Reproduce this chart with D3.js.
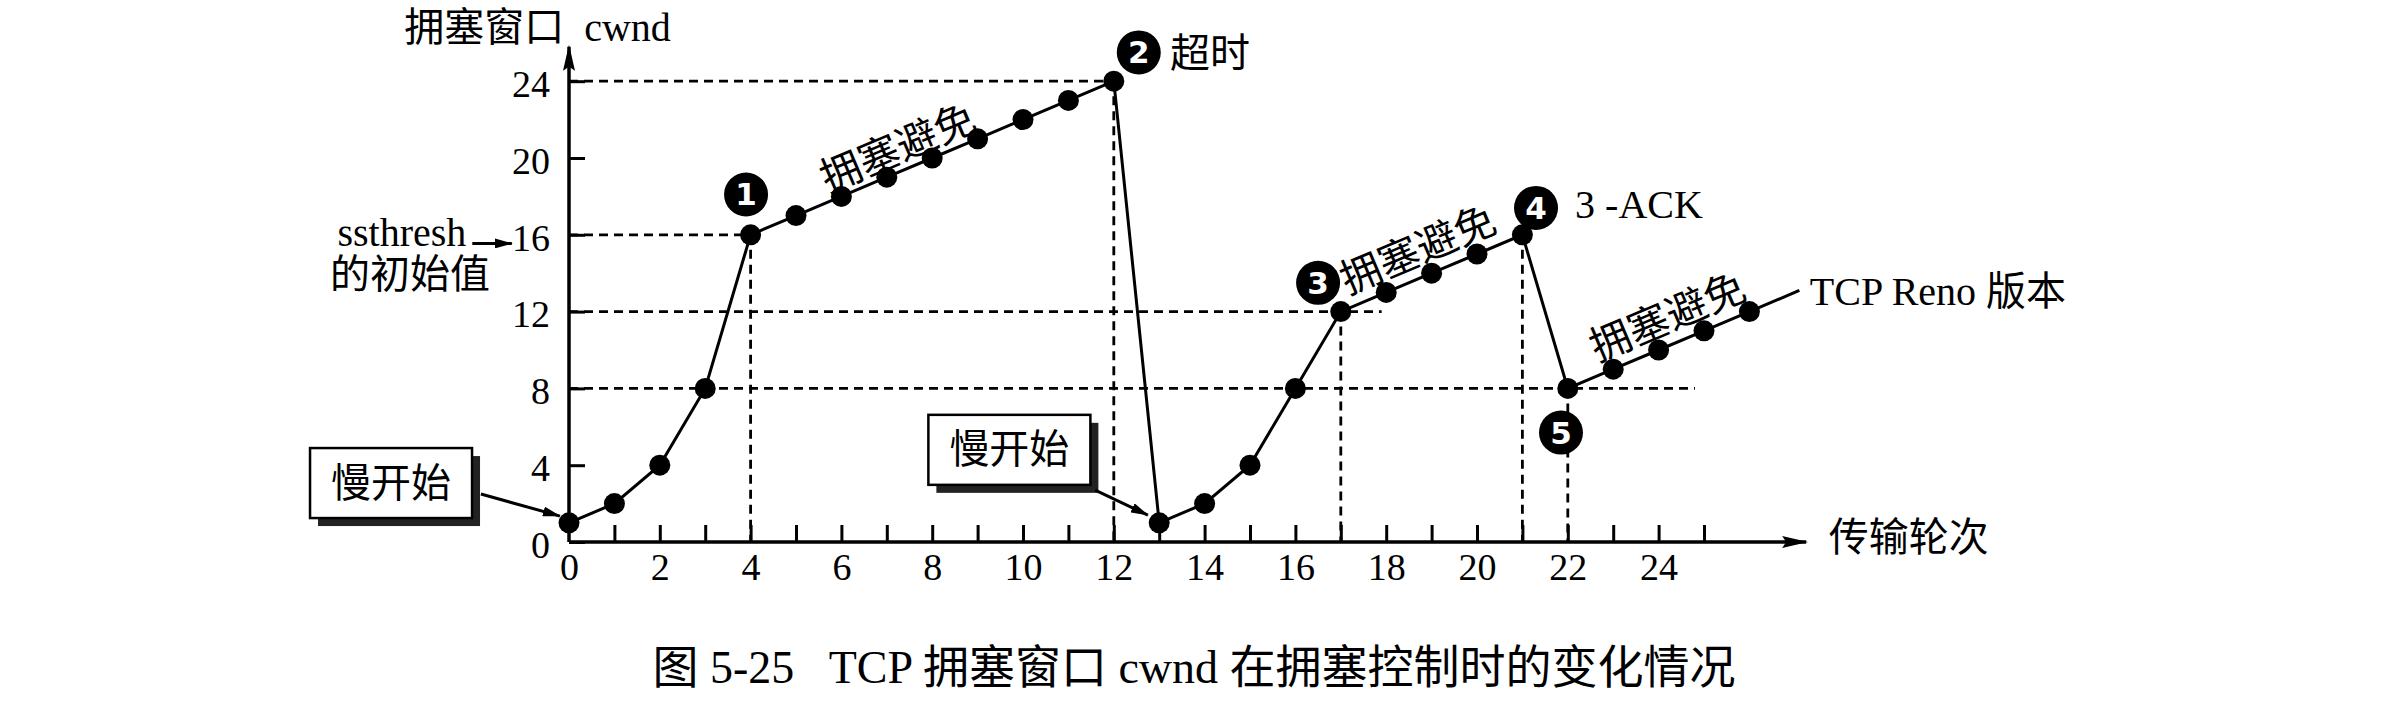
<!DOCTYPE html>
<html><head><meta charset="utf-8">
<script src="https://cdn.jsdelivr.net/npm/d3@7"></script>
<style>
html,body{margin:0;padding:0;background:#fff;}
svg{display:block;}
text{font-family:"Liberation Serif","Noto Sans CJK SC",serif;fill:#000;}
</style></head><body>
<svg id="chart" width="2388" height="707"></svg>
<script>
// ---------------- data ----------------
const rounds = d3.range(0, 27);
const cwnd = [1,2,4,8,16,17,18,19,20,21,22,23,24,1,2,4,8,12,13,14,15,16,8,9,10,11,12];
const tail = [[26,12],[27.1,13.1]];
const xTickLabels = [0,2,4,6,8,10,12,14,16,18,20,22,24];
const xMinorTicks = d3.range(1, 26);
const yTickLabels = [0,4,8,12,16,20,24];
const guideH = [{v:24,from:0,to:12},{v:16,from:0,to:4},{v:12,from:0,to:17.9},{v:8,from:0,to:24.8}];
const guideV = [{r:4,v:16},{r:12,v:24},{r:17,v:12},{r:21,v:16},{r:22,v:8}];
const markers = [{n:"1",r:3.9,v:18.1},{n:"2",r:12.55,v:25.5},{n:"3",r:16.5,v:13.5},{n:"4",r:21.3,v:17.4},{n:"5",r:21.85,v:5.7}];
const phaseLabels = [{text:"拥塞避免",r:7.25,v:20.5},{text:"拥塞避免",r:18.7,v:15.2},{text:"拥塞避免",r:24.2,v:11.7}];
const callouts = [{text:"慢开始",r:-3.92,v:3.07,from:[-1.94,2.5],to:[-0.2,1.35]},
                  {text:"慢开始",r:9.7,v:4.8,from:[11.59,2.7],to:[12.75,1.4]}];
const notes = [{text:"超时",r:13.24,v:25.45},{text:"3 -ACK",r:22.16,v:17.6},{text:"TCP Reno 版本",r:27.33,v:13.07}];
const xAxisTitle = "传输轮次";
const yAxisTitle = "拥塞窗口  cwnd";
const ssLabel = ["ssthresh","的初始值"];
const caption = "图 5-25   TCP 拥塞窗口 cwnd 在拥塞控制时的变化情况";

// ---------------- drawing ----------------
const svg = d3.select("#chart");
const x = d3.scaleLinear().domain([0,26]).range([569, 569 + 26*45.4]);
const y = d3.scaleLinear().domain([0,24]).range([542, 542 - 24*19.2]);

const defs = svg.append("defs");
defs.append("marker").attr("id","axArrow").attr("markerUnits","userSpaceOnUse")
  .attr("viewBox","0 0 26 12").attr("refX",24).attr("refY",6)
  .attr("markerWidth",26).attr("markerHeight",12).attr("orient","auto")
  .append("path").attr("d","M0,0 L26,6 L0,12 L4,6 Z").attr("fill","#000");
defs.append("marker").attr("id","smArrow").attr("markerUnits","userSpaceOnUse")
  .attr("viewBox","0 0 18 10").attr("refX",17).attr("refY",5)
  .attr("markerWidth",18).attr("markerHeight",10).attr("orient","auto")
  .append("path").attr("d","M0,0 L18,5 L0,10 Z").attr("fill","#000");

// guides
const g = svg.append("g");
g.selectAll(".gh").data(guideH).join("line")
  .attr("x1",d=>x(d.from)).attr("x2",d=>x(d.to))
  .attr("y1",d=>y(d.v)).attr("y2",d=>y(d.v))
  .attr("stroke","#000").attr("stroke-width",2.8).attr("stroke-dasharray","9,6");
g.selectAll(".gv").data(guideV).join("line")
  .attr("x1",d=>x(d.r)).attr("x2",d=>x(d.r))
  .attr("y1",d=>y(d.v)).attr("y2",y(0))
  .attr("stroke","#000").attr("stroke-width",2.8).attr("stroke-dasharray","9,6");

// axes
const xMinor = svg.append("g").attr("transform",`translate(0,${y(0)})`)
  .call(d3.axisBottom(x).tickValues(xMinorTicks).tickSize(-17).tickFormat(()=>""));
xMinor.select(".domain").remove();
xMinor.selectAll("line").attr("stroke-width",3);
const xLab = svg.append("g").attr("transform",`translate(0,${y(0)})`)
  .call(d3.axisBottom(x).tickValues(xTickLabels).tickSize(0).tickPadding(11));
xLab.select(".domain").remove();
xLab.attr("font-size",38).selectAll("text").attr("font-size",38);

const yAx = svg.append("g").attr("transform",`translate(${x(0)},0)`)
  .call(d3.axisLeft(y).tickValues(yTickLabels).tickSize(-16).tickPadding(19));
yAx.select(".domain").remove();
yAx.selectAll("line").attr("stroke-width",3);
yAx.selectAll("text").attr("font-size",38).attr("dy","0.4em");

svg.append("line").attr("x1",x(0)).attr("x2",x(27.25)).attr("y1",y(0)).attr("y2",y(0))
  .attr("stroke","#000").attr("stroke-width",3.5).attr("marker-end","url(#axArrow)");
svg.append("line").attr("x1",x(0)).attr("x2",x(0)).attr("y1",y(0)).attr("y2",y(25.8))
  .attr("stroke","#000").attr("stroke-width",3.5).attr("marker-end","url(#axArrow)");

svg.append("text").attr("x",x(27.75)).attr("y",y(0.26)).attr("dominant-baseline","central")
  .attr("font-size",40).text(xAxisTitle);
svg.append("text").attr("x",x(-3.63)).attr("y",y(26.8)).attr("dominant-baseline","central")
  .attr("font-size",40).style("white-space","pre").text(yAxisTitle);

// ssthresh label
svg.append("text").attr("x",x(-3.68)).attr("y",y(15.4)).attr("text-anchor","middle")
  .attr("font-size",40).text(ssLabel[0]);
svg.append("text").attr("x",x(-3.5)).attr("y",y(13.25)).attr("text-anchor","middle")
  .attr("font-size",40).text(ssLabel[1]);
svg.append("line").attr("x1",x(-2.13)).attr("x2",x(-1.26)).attr("y1",y(15.55)).attr("y2",y(15.55))
  .attr("stroke","#000").attr("stroke-width",3).attr("marker-end","url(#smArrow)");

// main line
const pts = rounds.map((r,i)=>[r,cwnd[i]]);
const line = d3.line().x(d=>x(d[0])).y(d=>y(d[1]));
svg.append("path").attr("d",line(pts)).attr("fill","none").attr("stroke","#000").attr("stroke-width",3);
svg.append("path").attr("d",line(tail)).attr("fill","none").attr("stroke","#000").attr("stroke-width",3);
svg.selectAll(".dot").data(pts).join("circle")
  .attr("cx",d=>x(d[0])).attr("cy",d=>y(d[1])).attr("r",10.5).attr("fill","#000");

// phase labels
const ang = -Math.atan2(y(0)-y(1), x(1)-x(0)) * 180/Math.PI;
svg.selectAll(".ph").data(phaseLabels).join("text")
  .attr("transform",d=>`translate(${x(d.r)},${y(d.v)}) rotate(${ang})`)
  .attr("text-anchor","middle").attr("dominant-baseline","central")
  .attr("font-size",41).text(d=>d.text);

// callouts
callouts.forEach(c=>{
  const cx = x(c.r), cy = y(c.v), w = 162, h = 70;
  svg.append("rect").attr("x",cx-w/2+8).attr("y",cy-h/2+8).attr("width",w).attr("height",h).attr("fill","#222");
  svg.append("rect").attr("x",cx-w/2).attr("y",cy-h/2).attr("width",w).attr("height",h)
    .attr("fill","#fff").attr("stroke","#000").attr("stroke-width",2.5);
  svg.append("text").attr("x",cx).attr("y",cy).attr("text-anchor","middle").attr("dominant-baseline","central")
    .attr("font-size",40).text(c.text);
  svg.append("line").attr("x1",x(c.from[0])).attr("y1",y(c.from[1])).attr("x2",x(c.to[0])).attr("y2",y(c.to[1]))
    .attr("stroke","#000").attr("stroke-width",3).attr("marker-end","url(#smArrow)");
});

// numbered markers
const mk = svg.selectAll(".mk").data(markers).join("g")
  .attr("transform",d=>`translate(${x(d.r)},${y(d.v)})`);
mk.append("circle").attr("r",22).attr("fill","#000");
mk.append("text").attr("text-anchor","middle").attr("dominant-baseline","central")
  .style("font-family","'DejaVu Sans',sans-serif").style("fill","#fff")
  .attr("font-weight","bold").attr("font-size",31).text(d=>d.n);

// notes
svg.selectAll(".nt").data(notes).join("text")
  .attr("x",d=>x(d.r)).attr("y",d=>y(d.v)).attr("dominant-baseline","central")
  .attr("font-size",40).text(d=>d.text);

// caption
svg.append("text").attr("x",1194).attr("y",683).attr("text-anchor","middle")
  .attr("font-size",46).style("white-space","pre").text(caption);
</script>
</body></html>
